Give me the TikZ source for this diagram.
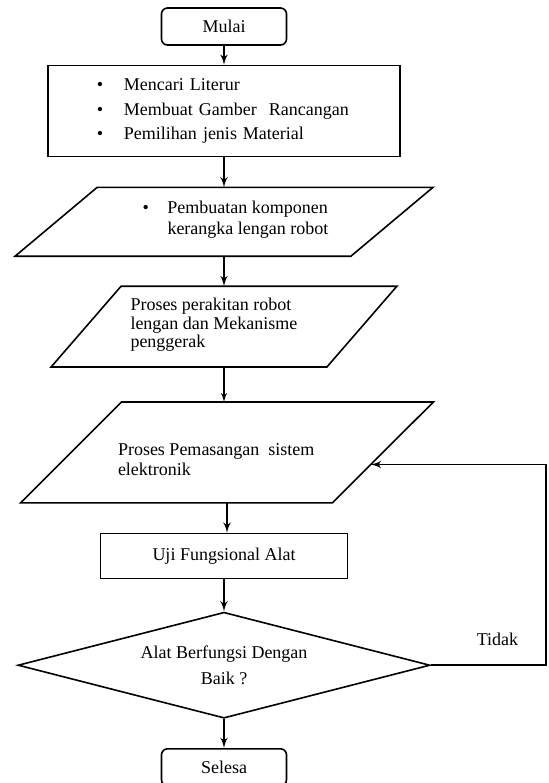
\documentclass[tikz,border=0pt]{standalone}
\usepackage{fontspec}
\setmainfont{Liberation Serif}
\usetikzlibrary{shapes.geometric, arrows, positioning, calc}

% outline of a slanted box: #1 node name, #2 slant
\newcommand{\slantbox}[2]{%
  \draw[thick] (#1.south west) -- ($(#1.north west)+(#2,0)$) -- (#1.north east) -- ($(#1.south east)-(#2,0)$) -- cycle;}

\begin{document}
\begin{tikzpicture}[
    font=\fontsize{9}{11}\selectfont,
    node distance=15pt,
    terminal/.style={rectangle, draw, thick, rounded corners=3pt, minimum width=62.5pt, minimum height=18.5pt, inner sep=0pt},
    block/.style={rectangle, draw, thick, inner sep=0pt},
    slantnode/.style={rectangle, inner sep=0pt},
    decision/.style={diamond, draw, thick, shape aspect=3.9, minimum width=206pt, minimum height=53pt, inner sep=1pt, align=center},
    txt/.style={inner sep=0pt, align=left},
    line/.style={draw, thick, -latex'}
]
    \useasboundingbox (0,0) rectangle (274.5pt,-391.5pt);

    % Nodes
    \node[terminal] (mulai) at (112pt,-13.25pt) {Mulai};
    \node[block, below=9.5pt of mulai, minimum width=176pt, minimum height=45.5pt, text width=127pt, inner xsep=24.5pt, align=left,
        font=\fontsize{9}{12.25}\selectfont] (studi)
        {\makebox[13.5pt][l]{\textbullet}Mencari Literur\\
         \makebox[13.5pt][l]{\textbullet}Membuat Gamber\ \ Rancangan\\
         \makebox[13.5pt][l]{\textbullet}Pemilihan jenis Material};
    \node[slantnode, below=of studi, minimum width=208.5pt, minimum height=34pt] (buat) {};
    \node[slantnode, below=of buat, minimum width=172.5pt, minimum height=40pt] (rakit) {};
    \node[slantnode, below=17.5pt of rakit, xshift=1.5pt, minimum width=206pt, minimum height=50pt] (pasang) {};
    \node[block, below=of pasang, xshift=-1.5pt, minimum width=123.5pt, minimum height=22.5pt] (uji) {Uji Fungsional Alat};
    \node[decision, below=16pt of uji, font=\fontsize{9}{13}\selectfont] (cek) {Alat Berfungsi Dengan\\Baik ?};
    \node[terminal, below=14.5pt of cek] (selesai) {Selesa};

    % Slanted boxes and their texts
    \slantbox{buat}{41pt}
    \slantbox{rakit}{35pt}
    \slantbox{pasang}{50.5pt}
    \node[txt, right=63.5pt of buat.west, yshift=1.25pt, font=\fontsize{9}{10.5}\selectfont] (buattxt)
        {\makebox[12.5pt][l]{\textbullet}Pembuatan komponen\\\makebox[12.5pt]{}kerangka lengan robot};
    \node[txt, right=39.5pt of rakit.west, yshift=0.75pt, font=\fontsize{9}{9.25}\selectfont] (rakittxt)
        {Proses perakitan robot\\lengan dan Mekanisme\\penggerak};
    \node[txt, right=48.5pt of pasang.west, yshift=-3.5pt, font=\fontsize{9}{10}\selectfont] (pasangtxt)
        {Proses Pemasangan\ \ sistem\\elektronik};

    % Connections
    \path[line] (mulai) -- (studi);
    \path[line] (studi) -- (buat);
    \path[line] (buat) -- (rakit);
    \path[line, semithick] (rakit.south) -- (rakit.south |- pasang.north);
    \path[line] (pasang.south) -- (pasang.south |- uji.north);
    \path[line] (uji) -- (cek);
    \path[line] (cek) -- (selesai);

    % Loop back
    \coordinate (pasangse) at ($(pasang.south east)+(-50.5pt,0)$);
    \coordinate (balik) at ($(pasangse)!0.38!(pasang.north east)$);
    \path[line] (cek.east) -- node[above=6pt, pos=0.58] {Tidak} ++(57.5pt,0) |- (balik);
\end{tikzpicture}
\end{document}
